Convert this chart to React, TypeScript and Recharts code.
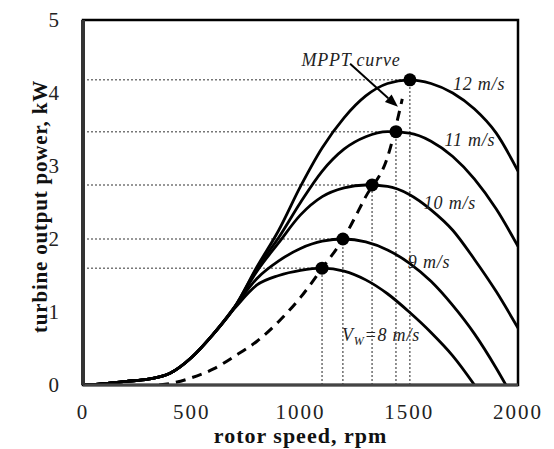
import { ComposedChart, Line, Scatter, XAxis, YAxis, ReferenceLine, ReferenceArea, ReferenceDot } from "recharts";

const rpm = [0, 100, 200, 300, 400, 500, 600, 700, 800, 900, 1000, 1100, 1200, 1300, 1400, 1500, 1600, 1700, 1800, 1900, 2000];

const p8 = [0, 0.02, 0.05, 0.08, 0.16, 0.38, 0.7, 1.06, 1.37, 1.5, 1.57, 1.6, 1.56, 1.44, 1.25, 1.0, 0.72, 0.4, 0.0, -0.45, null];
const p9 = [0, 0.02, 0.05, 0.08, 0.16, 0.38, 0.7, 1.08, 1.46, 1.7, 1.87, 1.97, 2.0, 1.96, 1.85, 1.67, 1.42, 1.09, 0.7, 0.23, -0.3];
const p10 = [0, 0.02, 0.05, 0.08, 0.16, 0.38, 0.7, 1.08, 1.56, 1.95, 2.33, 2.58, 2.7, 2.74, 2.72, 2.61, 2.4, 2.12, 1.72, 1.28, 0.78];
const p11 = [0, 0.02, 0.05, 0.08, 0.16, 0.38, 0.7, 1.08, 1.6, 2.02, 2.5, 2.93, 3.23, 3.4, 3.47, 3.45, 3.34, 3.13, 2.82, 2.41, 1.9];
const p12 = [0, 0.02, 0.05, 0.08, 0.16, 0.38, 0.7, 1.08, 1.62, 2.12, 2.72, 3.25, 3.66, 3.96, 4.13, 4.18, 4.13, 4.0, 3.78, 3.45, 2.93];

const mpptRpm = [350, 400, 500, 600, 700, 800, 900, 1000, 1100, 1200, 1300, 1400, 1468];
const mpptPower = [0, 0.02, 0.1, 0.22, 0.4, 0.6, 0.87, 1.2, 1.6, 2.02, 2.58, 3.12, 3.92];

const peakRpm = [1099, 1195, 1329, 1439, 1503];
const peakPower = [1.6, 2.0, 2.74, 3.47, 4.18];

const labelText = ["12 m/s", "11 m/s", "10 m/s", "9 m/s"];
const labelRpm = [1821, 1779, 1687, 1591];
const labelPower = [4.12, 3.36, 2.49, 1.68];

const xTicks = [0, 500, 1000, 1500, 2000];
const yTicks = [0, 1, 2, 3, 4, 5];

const curves = [p8, p9, p10, p11, p12].map((vals) =>
  rpm.map((x, i) => ({ x, y: vals[i] })).filter((d) => d.y !== null)
);
const mppt = mpptRpm.map((x, i) => ({ x, y: mpptPower[i] }));
const peaks = peakRpm.map((x, i) => ({ x, y: peakPower[i] }));

const serif = "'Liberation Serif', 'Times New Roman', Tinos, serif";

function DotText(props: any) {
  const { viewBox, text } = props;
  const x = viewBox.x + viewBox.width / 2;
  const y = viewBox.y + viewBox.height / 2;
  return (
    <text x={x} y={y + 6} textAnchor="middle" style={{ fontFamily: serif, fontStyle: "italic", fontSize: 18, letterSpacing: 0.8 }} fill="#222">
      {text}
    </text>
  );
}

function VwText(props: any) {
  const { viewBox } = props;
  const x = viewBox.x;
  const y = viewBox.y;
  return (
    <text x={x} y={y + 6} textAnchor="middle" style={{ fontFamily: serif, fontStyle: "italic", fontSize: 18, letterSpacing: 0.8 }} fill="#222">
      <tspan>V</tspan>
      <tspan fontSize={12} dy={4}>W</tspan>
      <tspan dy={-4}>=8 m/s</tspan>
    </text>
  );
}

function XTick(props: any) {
  const { x, y, payload } = props;
  return (
    <text x={x} y={y + 15} textAnchor="middle" style={{ fontFamily: serif, fontSize: 21, letterSpacing: 2 }} fill="#222">
      {payload.value}
    </text>
  );
}

function YTick(props: any) {
  const { x, y, payload } = props;
  return (
    <text x={x} y={y + 7} textAnchor="end" style={{ fontFamily: serif, fontSize: 21 }} fill="#222">
      {payload.value}
    </text>
  );
}

function Arrow(props: any) {
  const { x1, y1, x2, y2 } = props;
  const ang = Math.atan2(y2 - y1, x2 - x1);
  const len = 13;
  const w = 5;
  const bx = x2 - len * Math.cos(ang);
  const by = y2 - len * Math.sin(ang);
  const pts = [
    [x2, y2],
    [bx + w * Math.sin(ang), by - w * Math.cos(ang)],
    [bx - w * Math.sin(ang), by + w * Math.cos(ang)],
  ];
  return (
    <g>
      <line x1={x1} y1={y1} x2={bx} y2={by} stroke="#000" strokeWidth={2} />
      <polygon points={pts.map((p) => p.join(",")).join(" ")} fill="#000" />
    </g>
  );
}

function YTitle(props: any) {
  const { viewBox } = props;
  const x = viewBox.x + 24;
  const y = viewBox.y + viewBox.height / 2 + 4;
  return (
    <text x={x} y={y} transform={`rotate(-90, ${x}, ${y})`} textAnchor="middle" style={{ fontFamily: serif, fontWeight: "bold", fontSize: 21, letterSpacing: 0.8 }} fill="#111">
      turbine output power,  kW
    </text>
  );
}

function XTitle(props: any) {
  const { viewBox } = props;
  const x = viewBox.x + viewBox.width / 2;
  const y = viewBox.y + 58;
  return (
    <text x={x} y={y} textAnchor="middle" style={{ fontFamily: serif, fontWeight: "bold", fontSize: 22, letterSpacing: 1 }} fill="#111">
      rotor speed, rpm
    </text>
  );
}

export default function App() {
  return (
    <ComposedChart width={538} height={441} margin={{ top: 12, right: 28, bottom: 0, left: 15 }}>
      <XAxis
        type="number"
        dataKey="x"
        domain={[0, 2000]}
        ticks={xTicks}
        allowDataOverflow
        tick={<XTick />}
        tickLine={false}
        tickSize={0}
        tickMargin={19}
        height={64}
        axisLine={{ stroke: "#444", strokeWidth: 3 }}
        label={<XTitle />}
      />
      <YAxis
        type="number"
        dataKey="y"
        domain={[0, 5]}
        ticks={yTicks}
        allowDataOverflow
        tick={<YTick />}
        tickLine={false}
        tickSize={0}
        tickMargin={24}
        width={60}
        axisLine={{ stroke: "#333", strokeWidth: 4 }}
        label={<YTitle />}
      />
      <ReferenceArea x1={0} x2={2000} y1={0} y2={5} fill="none" fillOpacity={0} stroke="#000" strokeWidth={2.5} />
      {peaks.map((p, i) => (
        <ReferenceLine
          key={"h" + i}
          segment={[{ x: 0, y: p.y }, { x: p.x, y: p.y }]}
          stroke="#777"
          strokeWidth={1.5}
          strokeDasharray="2 2"
        />
      ))}
      {peaks.map((p, i) => (
        <ReferenceLine
          key={"v" + i}
          segment={[{ x: p.x, y: 0 }, { x: p.x, y: p.y }]}
          stroke="#222"
          strokeWidth={1}
          strokeDasharray="2 2"
        />
      ))}
      {curves.map((c, i) => (
        <Line
          key={"c" + i}
          data={c}
          dataKey="y"
          type="monotone"
          stroke="#000"
          strokeWidth={2.8}
          dot={false}
          activeDot={false}
          isAnimationActive={false}
        />
      ))}
      <Line
        data={mppt}
        dataKey="y"
        type="monotone"
        stroke="#000"
        strokeWidth={3}
        strokeDasharray="10 7"
        dot={false}
        activeDot={false}
        isAnimationActive={false}
      />
      <Scatter
        data={peaks}
        dataKey="y"
        isAnimationActive={false}
        shape={(p: any) => <circle cx={p.cx} cy={p.cy} r={6.5} fill="#000" />}
      />
      {labelText.map((t, i) => (
        <ReferenceDot key={"l" + i} x={labelRpm[i]} y={labelPower[i]} r={0} fill="none" stroke="none" label={<DotText text={t} />} />
      ))}
      <ReferenceDot x={1370} y={0.68} r={0} fill="none" stroke="none" label={<VwText />} />
      <ReferenceDot x={1232} y={4.45} r={0} fill="none" stroke="none" label={<DotText text="MPPT curve" />} />
      <ReferenceLine segment={[{ x: 1228, y: 4.4 }, { x: 1448, y: 3.81 }]} shape={<Arrow />} />
    </ComposedChart>
  );
}
